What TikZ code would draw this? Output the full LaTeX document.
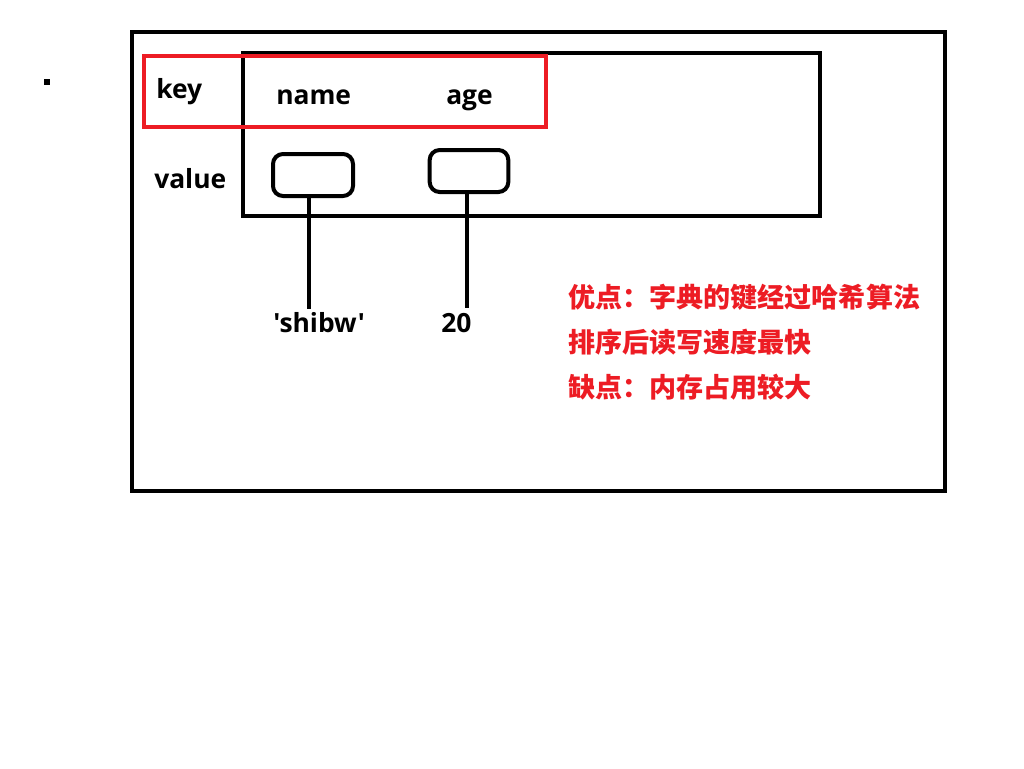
\documentclass[tikz,border=0pt]{standalone}
\usepackage{fontspec}
\newfontfamily\lat{Open Sans}
\newfontfamily\cjk{Noto Sans CJK SC}
\definecolor{hred}{HTML}{ED1C24}
\begin{document}
\begin{tikzpicture}[x=0.75pt,y=-0.75pt,
  frame/.style={draw=black,line width=3pt},
  redframe/.style={draw=hred,line width=3pt},
  cell/.style={draw=black,line width=3pt,rounded corners=7.5pt,inner sep=0pt},
  lbl/.style={anchor=base west,inner sep=0pt,font=\lat\fontsize{19.8pt}{22pt}\selectfont\bfseries},
  note/.style={anchor=base west,inner sep=0pt,text=hred,font=\cjk\fontsize{20.3pt}{24pt}\selectfont\bfseries},
  link/.style={draw=black,line width=3pt}]
\useasboundingbox (0,0) rectangle (1024,768);
\fill[white] (0,0) rectangle (1024,768);
% small dot
\fill[black] (44,79) rectangle (50,85);
% outer frame
\draw[frame] (132,32) rectangle (945,491);
% inner frame
\draw[frame] (243,53) rectangle (820,216);
% red key frame
\draw[redframe] (144,56) rectangle (546,127);
% labels
\node[lbl] (key) at (156,98) {key};
\node[lbl] (name) at (276,104) {name};
\node[lbl] (age) at (446,104) {age};
\node[lbl] (value) at (154,188) {value};
% value cells
\node[cell,minimum width=60pt,minimum height=31.5pt] (b1) at (313,175) {};
\node[cell,minimum width=59pt,minimum height=31.5pt] (b2) at (469,171) {};
\coordinate (e1) at (309,309);
\coordinate (e2) at (467,308);
\draw[link] (b1.south -| e1) -- (e1);
\draw[link] (b2.south -| e2) -- (e2);
\node[lbl] (v1) at (273,332) {'shibw'};
\node[lbl] (v2) at (441,332) {20};
% notes
\node[note] (n1) at (568,307) {优点：字典的键经过哈希算法};
\node[note] (n2) at (568,352) {排序后读写速度最快};
\node[note] (n3) at (568,397) {缺点：内存占用较大};
\end{tikzpicture}
\end{document}
